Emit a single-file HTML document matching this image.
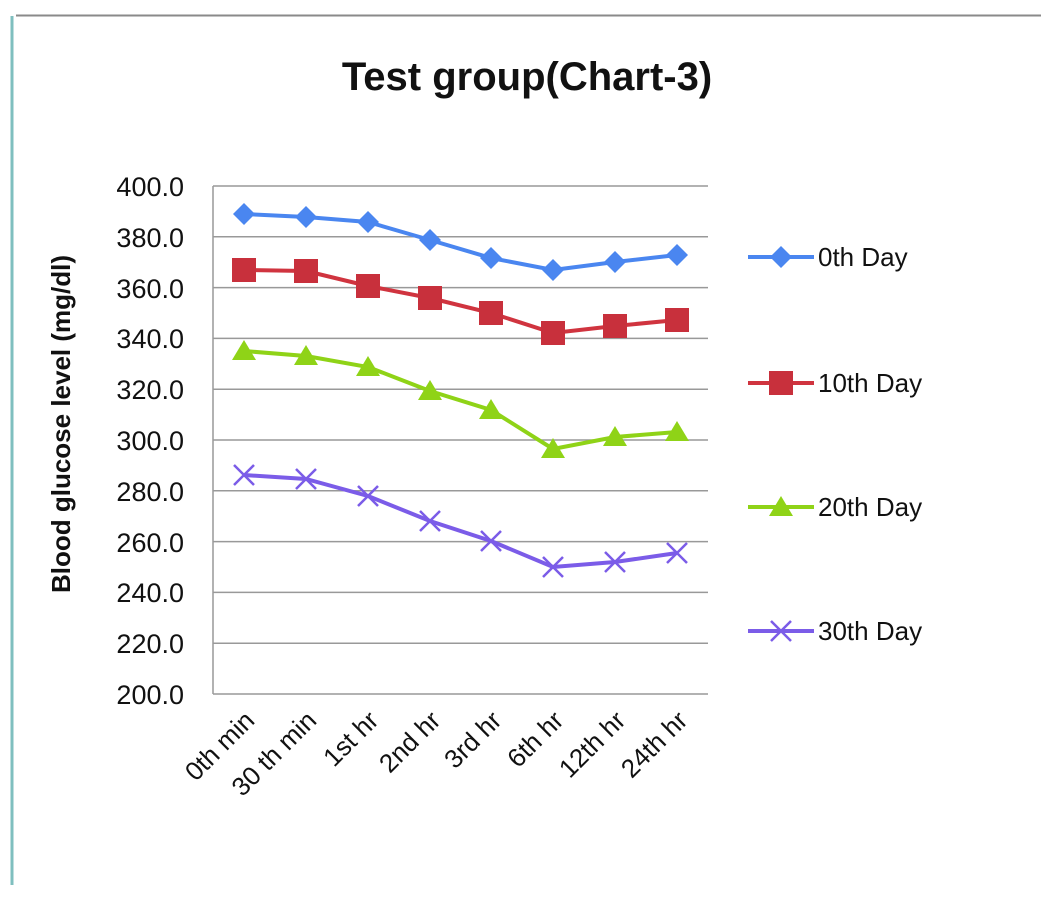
<!DOCTYPE html>
<html><head><style>
html,body{margin:0;padding:0;background:#fff;}
svg{display:block;font-family:"Liberation Sans",sans-serif;}
</style></head><body>
<svg width="1041" height="901" viewBox="0 0 1041 901">
<line x1="16" y1="15.5" x2="1041" y2="15.5" stroke="#8a8a8a" stroke-width="2"/>
<line x1="12" y1="16" x2="12" y2="885" stroke="#7fbfbf" stroke-width="3"/>
<text x="527" y="90" text-anchor="middle" font-size="40" font-weight="bold" fill="#111">Test group(Chart-3)</text>
<text transform="translate(70,424) rotate(-90)" text-anchor="middle" font-size="26" font-weight="bold" fill="#111">Blood glucose  level (mg/dl)</text>
<g stroke="#999" stroke-width="1.5">
<line x1="213" y1="186" x2="708" y2="186"/><line x1="213" y1="236.8" x2="708" y2="236.8"/>
<line x1="213" y1="287.6" x2="708" y2="287.6"/><line x1="213" y1="338.4" x2="708" y2="338.4"/>
<line x1="213" y1="389.2" x2="708" y2="389.2"/><line x1="213" y1="440" x2="708" y2="440"/>
<line x1="213" y1="490.8" x2="708" y2="490.8"/><line x1="213" y1="541.6" x2="708" y2="541.6"/>
<line x1="213" y1="592.4" x2="708" y2="592.4"/><line x1="213" y1="643.2" x2="708" y2="643.2"/>
<line x1="213" y1="694" x2="708" y2="694"/><line x1="213" y1="186" x2="213" y2="694"/>
</g>
<g font-size="27" fill="#111" text-anchor="end">
<text x="184" y="196">400.0</text><text x="184" y="247">380.0</text><text x="184" y="298">360.0</text>
<text x="184" y="348">340.0</text><text x="184" y="399">320.0</text><text x="184" y="450">300.0</text>
<text x="184" y="501">280.0</text><text x="184" y="552">260.0</text><text x="184" y="602">240.0</text>
<text x="184" y="653">220.0</text><text x="184" y="704">200.0</text>
</g>
<g font-size="26" fill="#111" text-anchor="end">
<text transform="translate(256,722) rotate(-45)">0th min</text>
<text transform="translate(318,722) rotate(-45)">30 th min</text>
<text transform="translate(380,722) rotate(-45)">1st hr</text>
<text transform="translate(442,722) rotate(-45)">2nd hr</text>
<text transform="translate(503,722) rotate(-45)">3rd hr</text>
<text transform="translate(565,722) rotate(-45)">6th hr</text>
<text transform="translate(627,722) rotate(-45)">12th hr</text>
<text transform="translate(689,722) rotate(-45)">24th hr</text>
</g>
<polyline fill="none" stroke="#4a86f0" stroke-width="4" points="244,214 306,217 368,222 430,240 491,258 553,270 615,262 677,255"/>
<g fill="#4a86f0">
<path d="M244,203 l11,11 -11,11 -11,-11z"/><path d="M306,206 l11,11 -11,11 -11,-11z"/><path d="M368,211 l11,11 -11,11 -11,-11z"/><path d="M430,229 l11,11 -11,11 -11,-11z"/><path d="M491,247 l11,11 -11,11 -11,-11z"/><path d="M553,259 l11,11 -11,11 -11,-11z"/><path d="M615,251 l11,11 -11,11 -11,-11z"/><path d="M677,244 l11,11 -11,11 -11,-11z"/>
</g>
<polyline fill="none" stroke="#d0343f" stroke-width="4" points="244,270 306,271 368,286 430,298 491,313 553,333 615,326 677,320"/>
<g fill="#c8303c">
<rect x="232" y="258" width="24" height="24"/><rect x="294" y="259" width="24" height="24"/><rect x="356" y="274" width="24" height="24"/><rect x="418" y="286" width="24" height="24"/><rect x="479" y="301" width="24" height="24"/><rect x="541" y="321" width="24" height="24"/><rect x="603" y="314" width="24" height="24"/><rect x="665" y="308" width="24" height="24"/>
</g>
<polyline fill="none" stroke="#8fd317" stroke-width="4" points="244,351 306,356 368,367 430,391 491,410 553,449 615,437 677,432"/>
<g fill="#8fd317">
<path d="M244,340 l12,20 h-24z"/><path d="M306,345 l12,20 h-24z"/><path d="M368,356 l12,20 h-24z"/><path d="M430,380 l12,20 h-24z"/><path d="M491,399 l12,20 h-24z"/><path d="M553,438 l12,20 h-24z"/><path d="M615,426 l12,20 h-24z"/><path d="M677,421 l12,20 h-24z"/>
</g>
<polyline fill="none" stroke="#7b5ce8" stroke-width="4" points="244,475 306,479 368,496 430,521 491,541 553,567 615,562 677,553"/>
<g stroke="#7b5ce8" stroke-width="2.5">
<path d="M234,465 l20,20 M254,465 l-20,20"/><path d="M296,469 l20,20 M316,469 l-20,20"/><path d="M358,486 l20,20 M378,486 l-20,20"/><path d="M420,511 l20,20 M440,511 l-20,20"/><path d="M481,531 l20,20 M501,531 l-20,20"/><path d="M543,557 l20,20 M563,557 l-20,20"/><path d="M605,552 l20,20 M625,552 l-20,20"/><path d="M667,543 l20,20 M687,543 l-20,20"/>
</g>
<line x1="748" y1="257" x2="814" y2="257" stroke="#4a86f0" stroke-width="4"/><path d="M781,246 l11,11 -11,11 -11,-11z" fill="#4a86f0"/>
<text x="818" y="266" font-size="26" fill="#111">0th Day</text>
<line x1="748" y1="383" x2="814" y2="383" stroke="#d0343f" stroke-width="4"/><rect x="769" y="371" width="24" height="24" fill="#c8303c"/>
<text x="818" y="392" font-size="26" fill="#111">10th Day</text>
<line x1="748" y1="507" x2="814" y2="507" stroke="#8fd317" stroke-width="4"/><path d="M781,496 l12,20 h-24z" fill="#8fd317"/>
<text x="818" y="516" font-size="26" fill="#111">20th Day</text>
<line x1="748" y1="631" x2="814" y2="631" stroke="#7b5ce8" stroke-width="4"/><path d="M771,621 l20,20 M791,621 l-20,20" stroke="#7b5ce8" stroke-width="2.5"/>
<text x="818" y="640" font-size="26" fill="#111">30th Day</text>
</svg>
</body></html>
